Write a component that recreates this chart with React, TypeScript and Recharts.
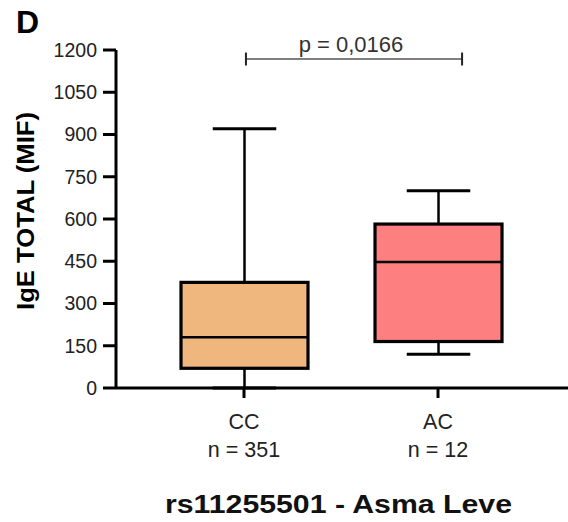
import React from 'react';
import { ComposedChart, Bar, XAxis, YAxis, ReferenceLine } from 'recharts';

const categories = ['CC', 'AC'];
const nLabels = ['n = 351', 'n = 12'];
const positions = [1, 2];
const mins = [0, 120];
const q1s = [70, 165];
const medians = [180, 447];
const q3s = [375, 582];
const maxs = [920, 700];
const fills = ['#EFB77E', '#FE7F7F'];
const yTicks = [0, 150, 300, 450, 600, 750, 900, 1050, 1200];
const pText = 'p = 0,0166';
const bracket = { from: 1.01, to: 2.124, y: 1168, tick: 23 };
const titleText = 'rs11255501 - Asma Leve';
const yLabelText = 'IgE TOTAL (MIF)';
const panelLetter = 'D';

const data = categories.map((c, i) => ({
  name: c,
  n: nLabels[i],
  pos: positions[i],
  min: mins[i],
  q1: q1s[i],
  median: medians[i],
  q3: q3s[i],
  max: maxs[i],
  fill: fills[i],
}));

const FONT = '"Liberation Sans", Arial, Helvetica, sans-serif';

const BoxShape = (props: any) => {
  const { x, y, width, height, payload } = props;
  const top = Math.min(y, y + height);
  const bottom = Math.max(y, y + height);
  const ppu = (bottom - top) / (payload.q3 - payload.q1);
  const pix = (v: number) => bottom - (v - payload.q1) * ppu;
  const cx = x + width / 2;
  const capHalf = width / 4;
  return (
    <g>
      <line x1={cx} x2={cx} y1={pix(payload.max)} y2={top} stroke="#000" strokeWidth={2.5} />
      <line x1={cx - capHalf} x2={cx + capHalf} y1={pix(payload.max)} y2={pix(payload.max)} stroke="#000" strokeWidth={3} />
      <line x1={cx} x2={cx} y1={bottom} y2={pix(payload.min)} stroke="#000" strokeWidth={2.5} />
      <line x1={cx - capHalf} x2={cx + capHalf} y1={pix(payload.min)} y2={pix(payload.min)} stroke="#000" strokeWidth={3} />
      <rect x={x} y={top} width={width} height={bottom - top} fill={payload.fill} stroke="#000" strokeWidth={3.2} />
      <line x1={x} x2={x + width} y1={pix(payload.median)} y2={pix(payload.median)} stroke="#000" strokeWidth={2.5} />
    </g>
  );
};

const XTick = (props: any) => {
  const { x, y, payload } = props;
  const idx = positions.indexOf(payload.value);
  if (idx < 0) return null;
  return (
    <g>
      <text x={x} y={y + 25} textAnchor="middle" fontSize={21.5} fill="#222" fontFamily={FONT}>
        {categories[idx]}
      </text>
      <text x={x} y={y + 53} textAnchor="middle" fontSize={21.5} fill="#222" fontFamily={FONT}>
        {nLabels[idx]}
      </text>
    </g>
  );
};

export default function App() {
  return (
    <div style={{ position: 'absolute', left: 0, top: 0, width: 568, height: 522, background: '#fff' }}>
      <ComposedChart
        width={568}
        height={522}
        data={data}
        margin={{ top: 50, right: 0, bottom: 0, left: 0 }}
      >
        <XAxis
          dataKey="pos"
          type="number"
          domain={[0.3402, 2.67]}
          ticks={positions}
          allowDataOverflow
          height={134}
          tickSize={10}
          tickMargin={6}
          axisLine={{ stroke: '#000', strokeWidth: 3 }}
          tickLine={{ stroke: '#000', strokeWidth: 3 }}
          tick={<XTick />}
        />
        <YAxis
          type="number"
          domain={[0, 1200]}
          ticks={yTicks}
          interval={0}
          width={116}
          tickSize={13}
          tickMargin={6}
          axisLine={{ stroke: '#000', strokeWidth: 3 }}
          tickLine={{ stroke: '#000', strokeWidth: 3 }}
          tick={{ fontSize: 19.5, fill: '#222', fontFamily: FONT }}
          label={(p: any) => {
            const vb = p.viewBox || {};
            const cx = 26;
            const cy = (vb.y ?? 50) + (vb.height ?? 338) / 2 - 8;
            return (
              <text
                x={cx}
                y={cy}
                transform={`rotate(-90, ${cx}, ${cy})`}
                textAnchor="middle"
                dominantBaseline="central"
                fontSize={23}
                fontWeight="bold"
                fill="#000"
                fontFamily={FONT}
                textLength={198}
                lengthAdjust="spacingAndGlyphs"
              >
                {yLabelText}
              </text>
            );
          }}
        />
        <Bar
          dataKey={(d: any) => [d.q1, d.q3]}
          barSize={127}
          isAnimationActive={false}
          shape={<BoxShape />}
        />
        <ReferenceLine
          segment={[{ x: bracket.from, y: bracket.y }, { x: bracket.to, y: bracket.y }]}
          stroke="#555"
          strokeWidth={1.5}
          ifOverflow="visible"
          label={(p: any) => {
            const vb = p.viewBox || {};
            return (
              <text
                x={vb.x + vb.width / 2 - 3}
                y={vb.y - 7}
                textAnchor="middle"
                fontSize={22}
                fill="#333"
                fontFamily={FONT}
              >
                {pText}
              </text>
            );
          }}
        />
        <ReferenceLine
          segment={[{ x: bracket.from, y: bracket.y - bracket.tick }, { x: bracket.from, y: bracket.y + bracket.tick }]}
          stroke="#222"
          strokeWidth={2}
          ifOverflow="visible"
        />
        <ReferenceLine
          segment={[{ x: bracket.to, y: bracket.y - bracket.tick }, { x: bracket.to, y: bracket.y + bracket.tick }]}
          stroke="#222"
          strokeWidth={2}
          ifOverflow="visible"
        />
      </ComposedChart>
      <svg
        width={568}
        height={522}
        style={{ position: 'absolute', left: 0, top: 0, pointerEvents: 'none' }}
      >
        <text x={16} y={33} fontFamily={FONT} fontWeight="bold" fontSize={32} fill="#000">
          {panelLetter}
        </text>
        <text
          x={338.5}
          y={513}
          textAnchor="middle"
          fontFamily={FONT}
          fontWeight="bold"
          fontSize={25}
          fill="#111"
          textLength={347}
          lengthAdjust="spacingAndGlyphs"
        >
          {titleText}
        </text>
      </svg>
    </div>
  );
}
